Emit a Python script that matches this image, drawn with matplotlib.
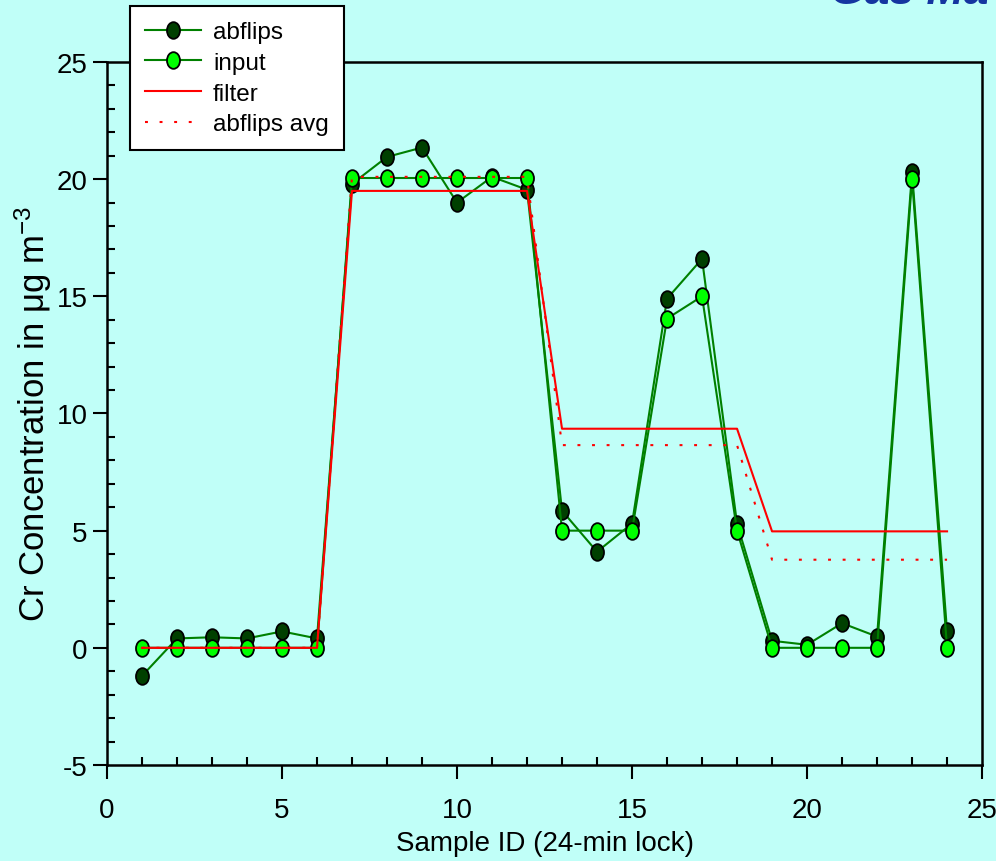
import matplotlib
matplotlib.use("Agg")
import matplotlib.pyplot as plt
from matplotlib.path import Path
from matplotlib.transforms import Affine2D
from matplotlib.ticker import MultipleLocator

plt.rcParams['font.family'] = ['Liberation Sans', 'DejaVu Sans']
plt.rcParams['mathtext.fontset'] = 'custom'
plt.rcParams['mathtext.rm'] = 'Liberation Sans'
plt.rcParams['mathtext.it'] = 'Liberation Sans'
plt.rcParams['axes.unicode_minus'] = False

# datos
sample_id = list(range(1, 25))
abflips = [-1.2, 0.4, 0.45, 0.4, 0.7, 0.4,
           19.8, 20.95, 21.35, 19.0, 20.1, 19.55,
           5.85, 4.1, 5.3, 14.9, 16.6, 5.3,
           0.3, 0.13, 1.05, 0.48, 20.3, 0.7]
input_vals = [0, 0, 0, 0, 0, 0,
              20.05, 20.05, 20.05, 20.05, 20.05, 20.05,
              5.0, 5.0, 5.0, 14.05, 15.0, 5.0,
              0, 0, 0, 0, 20.0, 0]
filter_vals = [0] * 6 + [19.5] * 6 + [9.35] * 6 + [4.97] * 6
abflips_avg = [0] * 6 + [20.1] * 6 + [8.65] * 6 + [3.76] * 6

bg = '#c0fff8'
line_green = '#008000'

# marcador eliptico (un poco mas alto que ancho)
ellipse = Path.unit_circle().transformed(Affine2D().scale(0.78, 1.0))

fig = plt.figure(figsize=(9.96, 8.62), dpi=100, facecolor=bg)
ax = fig.add_axes([0.1074, 0.1114, 0.8786, 0.8155])
ax.set_facecolor(bg)

ax.plot(sample_id, abflips, color=line_green, lw=1.5, marker=ellipse,
        markersize=12, markerfacecolor='#004000', markeredgecolor='black',
        markeredgewidth=1.3, label='abflips', zorder=3)
ax.plot(sample_id, input_vals, color=line_green, lw=1.5, marker=ellipse,
        markersize=12, markerfacecolor='#00ff00', markeredgecolor='black',
        markeredgewidth=1.3, label='input', zorder=4)
ax.plot(sample_id, filter_vals, color='red', lw=1.5, label='filter', zorder=5)
ax.plot(sample_id, abflips_avg, color='red', lw=1.5, linestyle=(0, (1.4, 5.6)),
        label='abflips avg', zorder=5)

ax.set_xlim(0, 25)
ax.set_ylim(-5, 25)
ax.xaxis.set_major_locator(MultipleLocator(5))
ax.xaxis.set_minor_locator(MultipleLocator(1))
ax.yaxis.set_major_locator(MultipleLocator(5))
ax.yaxis.set_minor_locator(MultipleLocator(1))
ax.tick_params(which='major', direction='out', length=10, width=1.5,
               labelsize=20, top=False, right=False)
ax.tick_params(axis='x', which='major', pad=13)
ax.tick_params(axis='y', which='major', pad=4)
ax.tick_params(which='minor', direction='in', length=6, width=1.5,
               top=False, right=False)
for s in ax.spines.values():
    s.set_linewidth(1.8)

ax.set_xlabel('Sample ID (24-min lock)', fontsize=20, labelpad=5)
ax.set_ylabel(r'Cr Concentration in μg m$^{-3}$', fontsize=25, labelpad=2)

leg = ax.legend(loc='upper left', bbox_to_anchor=(0.1305, 1 - 7 / 862),
                bbox_transform=fig.transFigure, borderaxespad=0,
                fontsize=17.5, fancybox=False, framealpha=1, edgecolor='black',
                handlelength=2.3, handletextpad=0.5, labelspacing=0.36,
                borderpad=0.62)
leg.get_frame().set_linewidth(1.5)
leg.set_zorder(10)

fig.text(0.833, 1 - 4.5 / 862, 'Gas Ma', color='#1535a0', fontsize=32,
         fontweight='bold', fontstyle='italic', ha='left', va='baseline')

fig.savefig('out.png', dpi=100, facecolor=bg)
